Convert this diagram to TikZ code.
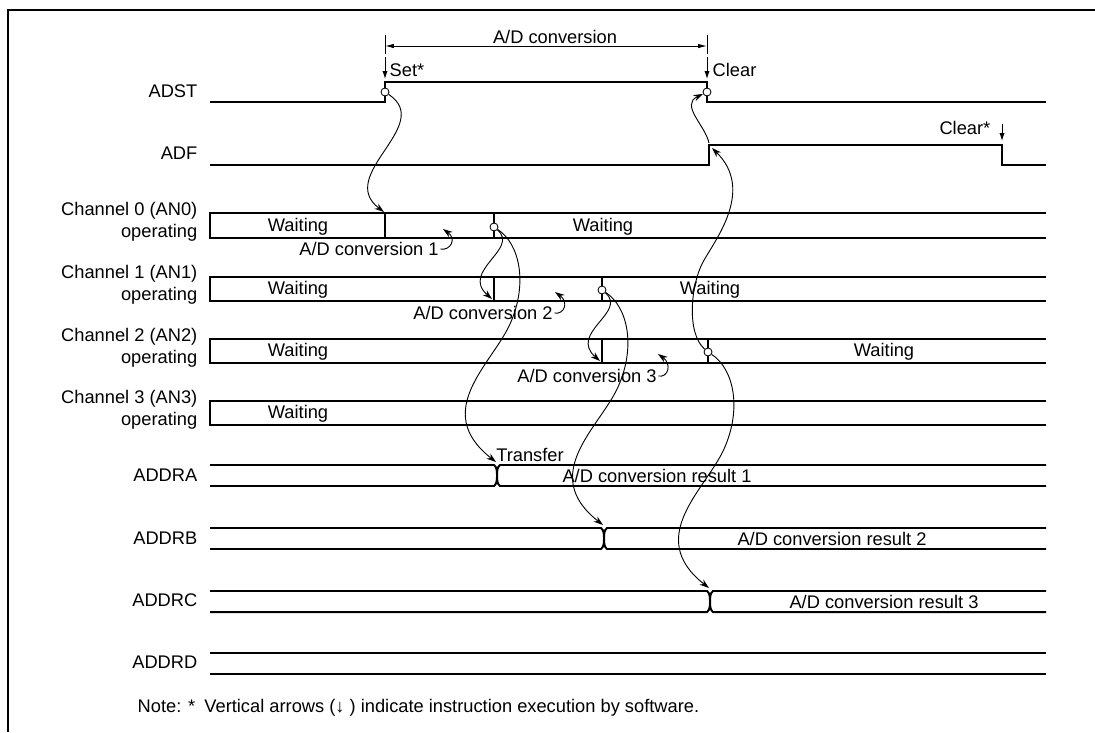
\documentclass[tikz,border=0pt]{standalone}
\usepackage{fontspec}
\setmainfont{Liberation Sans}
\usepackage{tikz}
\usetikzlibrary{arrows.meta,positioning}

\begin{document}
\begin{tikzpicture}[
    x=0.025cm, y=-0.025cm,
    font=\fontsize{13}{16}\selectfont,
    sig/.style={line width=1.4pt},
    frm/.style={line width=1.7pt},
    lbl/.style={anchor=east, align=right, inner sep=1pt},
    txt/.style={inner sep=1pt},
    hole/.style={draw, fill=white, circle, inner sep=0pt, minimum size=2mm, line width=0.6pt},
    link/.style={-{Stealth[length=2.4mm,width=1.6mm]}, line width=0.65pt},
    swarr/.style={-{Latex[length=2mm,width=1.3mm]}, line width=0.65pt},
    dimarr/.style={{Latex[length=2.2mm,width=1.1mm]}-{Latex[length=2.2mm,width=1.1mm]}, line width=0.65pt},
    ext/.style={line width=0.65pt}
]
    \useasboundingbox (0,0) rectangle (1095,732);
    \draw[frm] (8,732) -- (8,10) -- (1095,10);

    \node[lbl] (nADST) at (199,91) {ADST};
    \node[lbl] (nADF) at (199,153) {ADF};
    \node[lbl] (nCh0) at (199,222) {Channel 0 (AN0)\\operating};
    \node[lbl] (nCh1) at (199,285) {Channel 1 (AN1)\\operating};
    \node[lbl] (nCh2) at (199,348) {Channel 2 (AN2)\\operating};
    \node[lbl] (nCh3) at (199,410) {Channel 3 (AN3)\\operating};
    \node[lbl] (nA) at (199,475) {ADDRA};
    \node[lbl] (nB) at (199,538) {ADDRB};
    \node[lbl] (nC) at (199,600) {ADDRC};
    \node[lbl] (nD) at (199,662) {ADDRD};

    \draw[ext] (385,35) -- (385,54);
    \draw[ext] (707,35) -- (707,54);
    \coordinate (dimL) at (385,46);
    \coordinate (dimR) at (707,46);
    \draw[dimarr] (dimL) -- (dimR);
    \node[txt] (dimlbl) at (555,37) {A/D conversion};

    \coordinate (setTop) at (385,57);
    \coordinate (setBot) at (385,79);
    \draw[swarr] (setTop) -- (setBot);
    \node[txt, anchor=west] (set) at (388,70) {Set*};
    \coordinate (clrTop) at (707,57);
    \coordinate (clrBot) at (707,79);
    \draw[swarr] (clrTop) -- (clrBot);
    \node[txt, anchor=west] (clr) at (711,70) {Clear};
    \coordinate (clsTop) at (1002,124);
    \coordinate (clsBot) at (1002,141);
    \draw[swarr] (clsTop) -- (clsBot);
    \node[txt, anchor=east] (cls) at (992,128) {Clear*};

    \draw[sig] (210,102) -- (385,102) -- (385,82) -- (707,82) -- (707,102) -- (1046,102);
    \draw[sig] (210,165) -- (709,165) -- (709,145) -- (1002,145) -- (1002,165) -- (1046,165);

    \draw[sig] (1046,213) -- (210,213) -- (210,238) -- (1046,238)
               (385,213) -- (385,238) (494,213) -- (494,238);
    \draw[sig] (1046,277) -- (210,277) -- (210,301) -- (1046,301)
               (494,277) -- (494,301) (602,277) -- (602,301);
    \draw[sig] (1046,339) -- (210,339) -- (210,363) -- (1046,363)
               (602,339) -- (602,363) (708,339) -- (708,363);
    \draw[sig] (1046,401) -- (210,401) -- (210,425) -- (1046,425);

    \draw[sig] (210,465) -- (494,465) .. controls (497,467) and (497,472) .. (497,475.5)
               .. controls (497,479) and (497,484) .. (494,486) -- (210,486);
    \draw[sig] (1046,465) -- (500,465) .. controls (497,467) and (497,472) .. (497,475.5)
               .. controls (497,479) and (497,484) .. (500,486) -- (1046,486);
    \draw[sig] (210,528) -- (601,528) .. controls (604,530) and (604,535) .. (604,538.5)
               .. controls (604,542) and (604,547) .. (601,549) -- (210,549);
    \draw[sig] (1046,528) -- (607,528) .. controls (604,530) and (604,535) .. (604,538.5)
               .. controls (604,542) and (604,547) .. (607,549) -- (1046,549);
    \draw[sig] (210,591) -- (707,591) .. controls (710,593) and (710,598) .. (710,601.5)
               .. controls (710,605) and (710,610) .. (707,612) -- (210,612);
    \draw[sig] (1046,591) -- (713,591) .. controls (710,593) and (710,598) .. (710,601.5)
               .. controls (710,605) and (710,610) .. (713,612) -- (1046,612);
    \draw[sig] (210,653) -- (1046,653) (210,674) -- (1046,674);

    \node[txt] (w0a) at (298,227) {Waiting};
    \node[txt] (w0b) at (603,227) {Waiting};
    \node[txt] (w1a) at (298,290) {Waiting};
    \node[txt] (w1b) at (710,290) {Waiting};
    \node[txt] (w2a) at (298,352) {Waiting};
    \node[txt] (w2b) at (884,352) {Waiting};
    \node[txt] (w3a) at (298,414) {Waiting};
    \node[txt] (cv1) at (369,249) {A/D conversion 1};
    \node[txt] (cv2) at (483,313) {A/D conversion 2};
    \node[txt] (cv3) at (587,376) {A/D conversion 3};
    \node[txt] (trf) at (530,455) {Transfer};
    \node[txt] (res1) at (657,476) {A/D conversion result 1};
    \node[txt] (res2) at (832,539) {A/D conversion result 2};
    \node[txt] (res3) at (884,602) {A/D conversion result 3};

    \node[hole] (hSet) at (385,92) {};
    \node[hole] (hClr) at (707,92) {};
    \node[hole] (h0) at (494,227) {};
    \node[hole] (h1) at (602,290) {};
    \node[hole] (h2) at (708,352) {};

    \coordinate (c0s) at (384,212);
    \coordinate (c1s) at (492,299);
    \coordinate (c2s) at (600,361);
    \coordinate (adfTop) at (709,143);
    \coordinate (adfUp) at (712,148);
    \coordinate (tA) at (496,462);
    \coordinate (tB) at (603,525);
    \coordinate (tC) at (709,588);
    \coordinate (k1) at (443,229);
    \coordinate (k2) at (555,292);
    \coordinate (k3) at (658,354);

    \draw[link] (hSet) .. controls (435,125) and (335,175) .. (c0s);
    \draw[link] (h0) .. controls +(26,22) and +(-32,-28) .. (c1s);
    \draw[link] (h1) .. controls +(26,22) and +(-32,-28) .. (c2s);
    \draw[link] (h0) .. controls +(26,17) and +(18,-40) .. ++(16,97)
                     .. controls +(-18,40) and +(-65,-51) .. (tA);
    \draw[link] (h1) .. controls +(26,17) and +(18,-40) .. ++(16,97)
                     .. controls +(-18,40) and +(-65,-51) .. (tB);
    \draw[link] (h2) .. controls +(26,17) and +(18,-40) .. ++(16,97)
                     .. controls +(-18,40) and +(-65,-51) .. (tC);
    \draw[link] (h2) .. controls (686,333) and (691,284) .. (703,262)
                     .. controls (715,240) and (755,190) .. (adfUp);
    \draw[link] (adfTop) .. controls (705,125) and (680,105) .. (hClr);
    \draw[link] (cv1.east) .. controls +(10,2) and +(14,10) .. (k1);
    \draw[link] (cv2.east) .. controls +(10,2) and +(14,10) .. (k2);
    \draw[link] (cv3.east) .. controls +(10,2) and +(14,10) .. (k3);

    \node[txt, anchor=west] (note) at (136,708) {Note: *\enspace Vertical arrows (↓ ) indicate instruction execution by software.};
\end{tikzpicture}
\end{document}
